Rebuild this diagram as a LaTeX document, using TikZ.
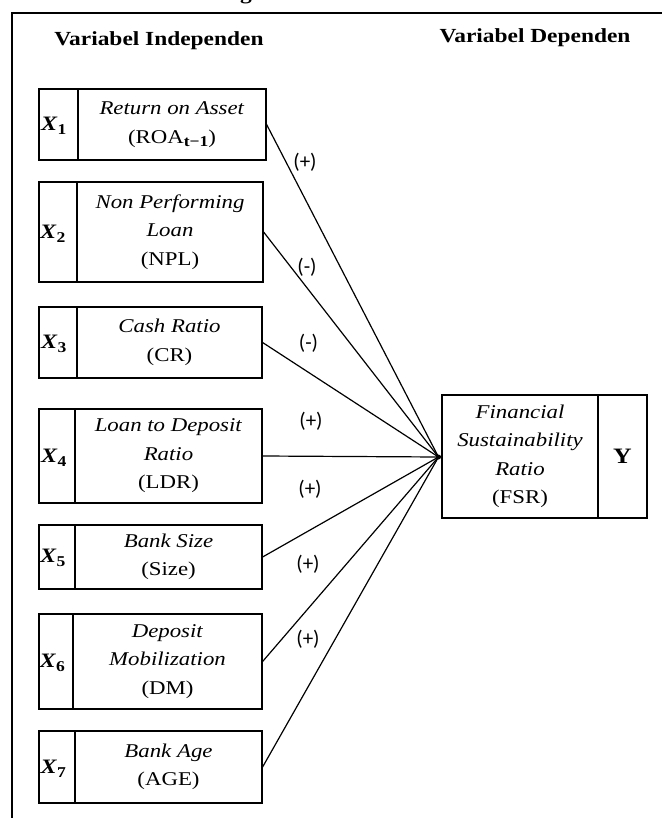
\documentclass[tikz,border=0pt]{standalone}
\usepackage{fontspec}
\setmainfont[FakeStretch=1.17]{Liberation Serif}
\newfontfamily\lblfont{Carlito}
\newcommand\bodyfont{\fontsize{19.5pt}{28.5pt}\selectfont}
\newcommand\xvar[1]{{\fontsize{20.5pt}{24pt}\selectfont\textbf{\textit{X}}}\raisebox{-3.5pt}{\fontsize{15pt}{18pt}\selectfont\textbf{#1}}}
\begin{document}
\begin{tikzpicture}[x=1pt,y=-1pt,
  cellbox/.style={draw, line width=1.2pt, inner sep=0pt, align=center, font=\bodyfont},
  xlab/.style={anchor=west, inner sep=0pt, font=\bodyfont},
  heading/.style={anchor=base, inner sep=0pt, font=\fontsize{20pt}{24pt}\selectfont\bfseries},
  sign/.style={inner sep=0pt, font=\lblfont\fontsize{21pt}{24pt}\selectfont},
  conn/.style={line width=1.2pt},
  frameline/.style={line width=1.4pt}]
\useasboundingbox (0,0) rectangle (662,818);

% cut-off title letter and frame
\begin{scope}
\clip (0,0) rectangle (662,818);
\node[heading] (gcut) at (246,0) {g};
\end{scope}
\coordinate (fa) at (12,818);
\coordinate (fb) at (12,13);
\coordinate (fc) at (662,13);
\draw[frameline] (fa) -- (fb) -- (fc);

% headings
\node[heading] (hind) at (159,46) {Variabel Independen};
\node[heading] (hdep) at (535,43) {Variabel Dependen};

% X1
\node[cellbox, minimum width=39pt, minimum height=71pt] (c1) at (58.5,124.5) {};
\node[cellbox, minimum width=188pt, minimum height=71pt] (t1) at (172,124.5) {\textit{Return on Asset}\\(ROA\raisebox{-3pt}{\fontsize{15pt}{18pt}\selectfont\textbf{t−1}})};
\node[xlab] (l1) at (41,126) {\xvar{1}};
% X2
\node[cellbox, minimum width=38pt, minimum height=100pt] (c2) at (58,232) {};
\node[cellbox, minimum width=186pt, minimum height=100pt] (t2) at (170,232) {\textit{Non Performing}\\\textit{Loan}\\(NPL)};
\node[xlab] (l2) at (40,234) {\xvar{2}};
% X3
\node[cellbox, minimum width=38pt, minimum height=71pt] (c3) at (58,342.5) {};
\node[cellbox, minimum width=185pt, minimum height=71pt] (t3) at (169.5,342.5) {\textit{Cash Ratio}\\(CR)};
\node[xlab] (l3) at (41,344) {\xvar{3}};
% X4
\node[cellbox, minimum width=36pt, minimum height=94pt] (c4) at (57,456) {};
\node[cellbox, minimum width=187pt, minimum height=94pt] (t4) at (168.5,456) {\textit{Loan to Deposit}\\\textit{Ratio}\\(LDR)};
\node[xlab] (l4) at (41,458) {\xvar{4}};
% X5
\node[cellbox, minimum width=36pt, minimum height=64pt] (c5) at (57,557) {};
\node[cellbox, minimum width=187pt, minimum height=64pt] (t5) at (168.5,557) {\textit{Bank Size}\\(Size)};
\node[xlab] (l5) at (40,558) {\xvar{5}};
% X6
\node[cellbox, minimum width=34pt, minimum height=95pt] (c6) at (56,661.5) {};
\node[cellbox, minimum width=189pt, minimum height=95pt] (t6) at (167.5,661.5) {\textit{Deposit}\\\textit{Mobilization}\\(DM)};
\node[xlab] (l6) at (39.5,663) {\xvar{6}};
% X7
\node[cellbox, minimum width=36pt, minimum height=72pt] (c7) at (57,767) {};
\node[cellbox, minimum width=187pt, minimum height=72pt] (t7) at (168.5,767) {\textit{Bank Age}\\(AGE)};
\node[xlab] (l7) at (40.5,769) {\xvar{7}};

% dependent
\node[cellbox, minimum width=156pt, minimum height=123pt] (fsr) at (520,456.5) {\textit{Financial}\\\textit{Sustainability}\\\textit{Ratio}\\(FSR)};
\node[cellbox, minimum width=49pt, minimum height=123pt, font=\fontsize{22pt}{26pt}\selectfont\bfseries] (ybox) at (622.5,456.5) {Y};

% hub
\node[circle, fill, inner sep=0pt, minimum size=5pt] (hub) at (438.5,457) {};

% connectors
\foreach \k in {1,...,7} {
  \draw[conn] (t\k.east) -- (hub.center);
}
\draw[conn] (hub.center) -- (fsr.west);

% signs
\node[sign] (s1) at (305,162) {(+)};
\node[sign] (s2) at (307,267) {(-)};
\node[sign] (s3) at (308.5,343) {(-)};
\node[sign] (s4) at (311,421) {(+)};
\node[sign] (s5) at (310,489) {(+)};
\node[sign] (s6) at (308,564) {(+)};
\node[sign] (s7) at (308,639) {(+)};
\end{tikzpicture}
\end{document}
